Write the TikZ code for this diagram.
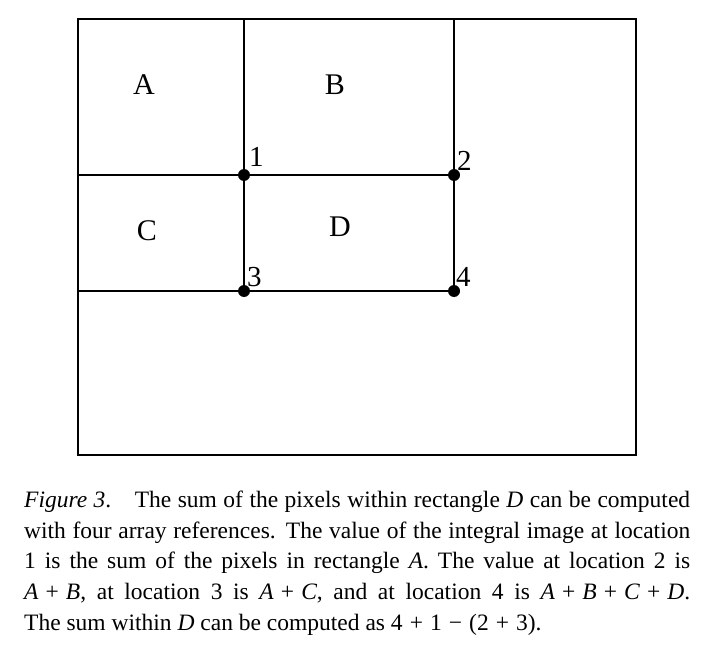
\documentclass[tikz,border=0pt]{standalone}
\usepackage{fontspec}
\setmainfont{Liberation Serif}

\newcommand{\pl}{\hspace{0.3em}+\hspace{0.3em}}

\begin{document}
\begin{tikzpicture}[x=1pt,y=-1pt]
        \tikzstyle{every node}=[font=\fontsize{30}{34}\selectfont]
        \tikzstyle{corner}=[circle,fill,inner sep=0pt,minimum size=12pt]
        \tikzstyle{index}=[anchor=base west,inner sep=0pt,font=\fontsize{29}{34}\selectfont]
        \useasboundingbox (0,0) rectangle (705,658);

        % outer image frame
        \draw[line width=1.4pt] (78,19) rectangle (636,455);

        % the four locations
        \node[corner] (p1) at (244,175) {};
        \node[corner] (p2) at (454,175) {};
        \node[corner] (p3) at (244,291) {};
        \node[corner] (p4) at (454,291) {};
        \coordinate (t1) at (244,19);
        \coordinate (t2) at (454,19);
        \coordinate (l1) at (78,175);
        \coordinate (l2) at (78,291);

        \draw[line width=1.4pt] (t1) -- (p1) -- (p3);
        \draw[line width=1.4pt] (t2) -- (p2) -- (p4);
        \draw[line width=1.4pt] (l1) -- (p1) -- (p2);
        \draw[line width=1.8pt] (l2) -- (p3) -- (p4);

        \node[index] (n1) at (249,167) {1};
        \node[index] (n2) at (457,171) {2};
        \node[index] (n3) at (247,287) {3};
        \node[index] (n4) at (456,287) {4};

        % rectangles
        \node (A) at (144,85) {A};
        \node (B) at (335,85) {B};
        \node (C) at (147,231) {C};
        \node (D) at (340,227) {D};

        % caption
        \node[anchor=north west,inner sep=0pt,text width=666pt,align=justify,
              font=\fontsize{23.5}{30.8}\selectfont] (cap) at (24,490.5)
        {\textit{Figure 3}.\quad The sum of the pixels within rectangle \textit{D} can be computed\linebreak
         with four array references. The value of the integral image at location\linebreak
         1 is the sum of the pixels in rectangle \textit{A}. The value at location 2 is\linebreak
         \textit{A}\pl\textit{B}, at location 3 is \textit{A}\pl\textit{C}, and at location 4 is \textit{A}\pl\textit{B}\pl\textit{C}\pl\textit{D}.\linebreak
         The sum within \textit{D} can be computed as 4\pl 1\hspace{0.3em}−\hspace{0.3em}(2\pl 3).};
\end{tikzpicture}
\end{document}
